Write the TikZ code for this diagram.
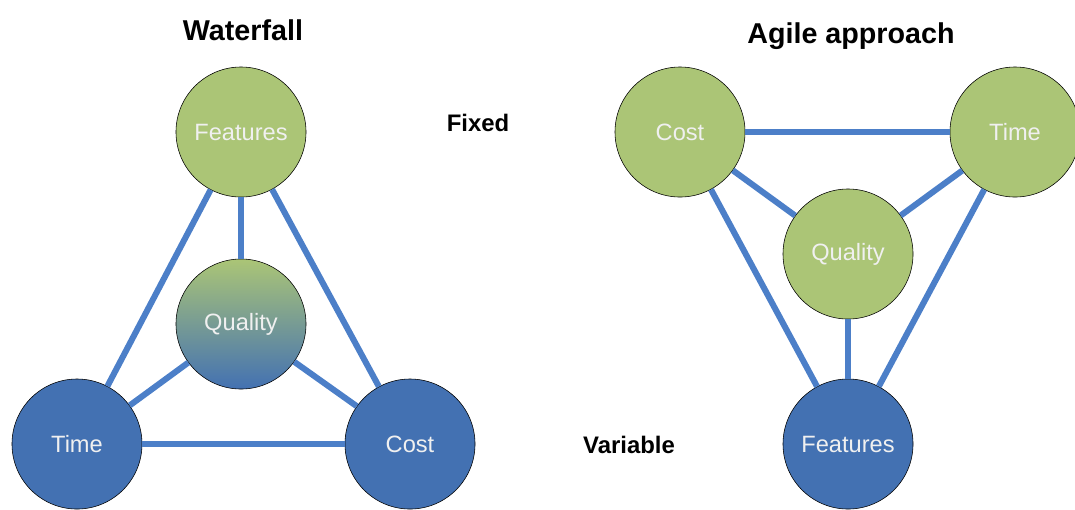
\documentclass[tikz,border=0pt]{standalone}
\usepackage{fontspec}
\setmainfont{Liberation Sans}
\definecolor{leaf}{RGB}{171,197,118}
\definecolor{sea}{RGB}{67,113,178}
\definecolor{edgeblue}{RGB}{76,127,200}
\begin{document}
\begin{tikzpicture}[x=0.025cm,y=-0.025cm,
  ball/.style={circle,draw=black,thin,minimum size=3.25cm,inner sep=0pt,text=white!94!black,font=\fontsize{16.8}{20}\selectfont},
  fixed/.style={ball,fill=leaf},
  var/.style={ball,fill=sea},
  mixed/.style={ball,top color=leaf,bottom color=sea},
  head/.style={font=\bfseries\fontsize{20.4}{24}\selectfont},
  tag/.style={font=\bfseries\fontsize{17}{20}\selectfont},
  link/.style={draw=edgeblue,line width=4.3pt}]
\useasboundingbox (0,0) rectangle (1075,509);
% waterfall: features fixed, time and cost vary
\node[head] (wtitle) at (243,30) {Waterfall};
\node[fixed] (wfeat) at (241,132) {Features};
\node[mixed] (wqual) at (241,324) {Quality};
\node[var] (wtime) at (77,444) {Time};
\node[var] (wcost) at (410,444) {Cost};
\draw[link] (wfeat) -- (wtime);
\draw[link] (wfeat) -- (wcost);
\draw[link] (wfeat) -- (wqual);
\draw[link] (wqual) -- (wtime);
\draw[link] (wqual) -- (wcost);
\draw[link] (wtime) -- (wcost);
% labels in the middle
\node[tag] (fixed) at (478,123) {Fixed};
\node[tag] (variable) at (629,445) {Variable};
% agile: cost and time fixed, features vary
\node[head] (atitle) at (851,36) {Agile approach};
\node[fixed] (acost) at (680,132) {Cost};
\node[fixed] (atime) at (1015,132) {Time};
\node[fixed] (aqual) at (848,254) {Quality};
\node[var] (afeat) at (848,444) {Features};
\draw[link] (acost) -- (atime);
\draw[link] (acost) -- (aqual);
\draw[link] (atime) -- (aqual);
\draw[link] (acost) -- (afeat);
\draw[link] (atime) -- (afeat);
\draw[link] (aqual) -- (afeat);
\end{tikzpicture}
\end{document}
